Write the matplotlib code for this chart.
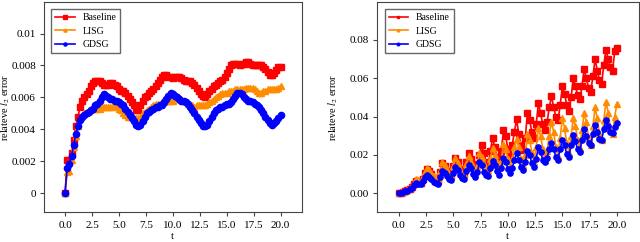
import numpy as np
import matplotlib
matplotlib.use("Agg")
import matplotlib.pyplot as plt

plt.rcParams['font.family'] = ['Liberation Serif', 'DejaVu Serif']
plt.rcParams['mathtext.fontset'] = 'stix'
plt.rcParams['font.size'] = 8

# time grid, step 0.2
t = np.linspace(0, 20, 101)

# left panel
base_left = [0.0, 0.0021, 0.0021, 0.0025, 0.0033, 0.0042, 0.0048, 0.0054, 0.0058, 0.0060,
             0.0062, 0.0064, 0.0067, 0.0069, 0.0070, 0.0070, 0.0070, 0.0069, 0.0068, 0.0068,
             0.0068, 0.0069, 0.0069, 0.0068, 0.0067, 0.0065, 0.0064, 0.0064, 0.0063, 0.0061,
             0.0059, 0.0057, 0.0055, 0.0052, 0.0052, 0.0055, 0.0058, 0.0060, 0.0061, 0.0063,
             0.0064, 0.0065, 0.0067, 0.0069, 0.0071, 0.0073, 0.0074, 0.0074, 0.0073, 0.0073,
             0.0072, 0.0073, 0.0073, 0.0073, 0.0072, 0.0071, 0.0070, 0.0070, 0.0070, 0.0069,
             0.0068, 0.0066, 0.0064, 0.0062, 0.0061, 0.0060, 0.0062, 0.0064, 0.0065, 0.0067,
             0.0068, 0.0069, 0.0070, 0.0071, 0.0073, 0.0075, 0.0078, 0.0080, 0.0081, 0.0081,
             0.0081, 0.0080, 0.0081, 0.0081, 0.0082, 0.0082, 0.0081, 0.0080, 0.0080, 0.0080,
             0.0080, 0.0080, 0.0079, 0.0078, 0.0076, 0.0074, 0.0074, 0.0075, 0.0077, 0.0079,
             0.0079]
lisg_left = [0.0, 0.0013, 0.0014, 0.0021, 0.0029, 0.0036, 0.0042, 0.0047, 0.0049, 0.0050,
             0.0051, 0.0052, 0.0053, 0.0053, 0.0053, 0.0053, 0.0053, 0.0054, 0.0054, 0.0054,
             0.0054, 0.0054, 0.0054, 0.0055, 0.0054, 0.0053, 0.0052, 0.0050, 0.0049, 0.0048,
             0.0048, 0.0048, 0.0047, 0.0047, 0.0047, 0.0048, 0.0050, 0.0051, 0.0052, 0.0053,
             0.0054, 0.0055, 0.0056, 0.0056, 0.0056, 0.0057, 0.0057, 0.0058, 0.0058, 0.0058,
             0.0058, 0.0059, 0.0059, 0.0059, 0.0059, 0.0058, 0.0057, 0.0056, 0.0055, 0.0055,
             0.0054, 0.0055, 0.0055, 0.0055, 0.0055, 0.0055, 0.0056, 0.0057, 0.0058, 0.0059,
             0.0060, 0.0061, 0.0062, 0.0063, 0.0063, 0.0063, 0.0064, 0.0064, 0.0064, 0.0065,
             0.0065, 0.0065, 0.0065, 0.0065, 0.0066, 0.0066, 0.0066, 0.0066, 0.0065, 0.0064,
             0.0063, 0.0063, 0.0064, 0.0064, 0.0065, 0.0065, 0.0065, 0.0065, 0.0065, 0.0066,
             0.0067]
gdsg_left = [0.0, 0.0016, 0.0018, 0.0023, 0.0030, 0.0037, 0.0042, 0.0046, 0.0048, 0.0049,
             0.0050, 0.0051, 0.0052, 0.0053, 0.0055, 0.0056, 0.0058, 0.0060, 0.0062, 0.0061,
             0.0060, 0.0059, 0.0059, 0.0058, 0.0058, 0.0057, 0.0056, 0.0055, 0.0053, 0.0051,
             0.0049, 0.0047, 0.0045, 0.0043, 0.0042, 0.0043, 0.0045, 0.0048, 0.0050, 0.0051,
             0.0052, 0.0053, 0.0054, 0.0054, 0.0055, 0.0055, 0.0057, 0.0059, 0.0061, 0.0063,
             0.0062, 0.0061, 0.0060, 0.0059, 0.0058, 0.0058, 0.0057, 0.0056, 0.0054, 0.0052,
             0.0050, 0.0048, 0.0046, 0.0044, 0.0042, 0.0042, 0.0043, 0.0045, 0.0048, 0.0050,
             0.0052, 0.0053, 0.0054, 0.0054, 0.0055, 0.0056, 0.0056, 0.0057, 0.0059, 0.0061,
             0.0063, 0.0063, 0.0062, 0.0060, 0.0059, 0.0058, 0.0058, 0.0057, 0.0056, 0.0055,
             0.0054, 0.0052, 0.0050, 0.0048, 0.0046, 0.0044, 0.0043, 0.0044, 0.0045, 0.0047,
             0.0049]

# right panel
base_right = [0.0, 0.0003, 0.0006, 0.0010, 0.0014, 0.0020, 0.0030, 0.0045, 0.0062, 0.0060,
              0.0052, 0.0075, 0.0105, 0.0125, 0.0115, 0.0098, 0.0080, 0.0066, 0.0062, 0.0110,
              0.0155, 0.0140, 0.0115, 0.0095, 0.0090, 0.0140, 0.0185, 0.0160, 0.0125, 0.0105,
              0.0100, 0.0160, 0.0210, 0.0180, 0.0145, 0.0120, 0.0150, 0.0200, 0.0250, 0.0210,
              0.0165, 0.0150, 0.0220, 0.0290, 0.0240, 0.0190, 0.0165, 0.0220, 0.0330, 0.0300,
              0.0230, 0.0195, 0.0250, 0.0320, 0.0385, 0.0310, 0.0250, 0.0225, 0.0290, 0.0420,
              0.0380, 0.0320, 0.0290, 0.0360, 0.0470, 0.0420, 0.0360, 0.0330, 0.0370, 0.0450,
              0.0505, 0.0450, 0.0400, 0.0380, 0.0460, 0.0560, 0.0520, 0.0460, 0.0430, 0.0500,
              0.0600, 0.0560, 0.0510, 0.0490, 0.0560, 0.0650, 0.0600, 0.0550, 0.0530, 0.0610,
              0.0700, 0.0640, 0.0590, 0.0570, 0.0670, 0.0750, 0.0700, 0.0660, 0.0640, 0.0740,
              0.0760]
lisg_right = [0.0, 0.0004, 0.0008, 0.0012, 0.0018, 0.0026, 0.0038, 0.0055, 0.0072, 0.0068,
              0.0060, 0.0085, 0.0112, 0.0132, 0.0122, 0.0105, 0.0090, 0.0078, 0.0074, 0.0118,
              0.0162, 0.0145, 0.0120, 0.0100, 0.0092, 0.0140, 0.0182, 0.0158, 0.0125, 0.0105,
              0.0100, 0.0150, 0.0192, 0.0165, 0.0130, 0.0110, 0.0140, 0.0212, 0.0190, 0.0150,
              0.0125, 0.0120, 0.0180, 0.0235, 0.0200, 0.0160, 0.0130, 0.0170, 0.0255, 0.0230,
              0.0180, 0.0140, 0.0180, 0.0240, 0.0285, 0.0240, 0.0180, 0.0145, 0.0200, 0.0310,
              0.0280, 0.0210, 0.0160, 0.0240, 0.0338, 0.0300, 0.0230, 0.0175, 0.0220, 0.0300,
              0.0373, 0.0320, 0.0240, 0.0195, 0.0290, 0.0390, 0.0340, 0.0260, 0.0212, 0.0300,
              0.0392, 0.0350, 0.0275, 0.0234, 0.0330, 0.0420, 0.0370, 0.0290, 0.0250, 0.0350,
              0.0448, 0.0390, 0.0310, 0.0275, 0.0380, 0.0477, 0.0420, 0.0340, 0.0310, 0.0400,
              0.0467]
gdsg_right = [0.0, 0.0003, 0.0006, 0.0009, 0.0013, 0.0019, 0.0028, 0.0042, 0.0055, 0.0050,
              0.0045, 0.0062, 0.0082, 0.0092, 0.0085, 0.0072, 0.0060, 0.0052, 0.0050, 0.0085,
              0.0118, 0.0105, 0.0088, 0.0074, 0.0070, 0.0105, 0.0138, 0.0120, 0.0095, 0.0080,
              0.0076, 0.0115, 0.0148, 0.0130, 0.0100, 0.0082, 0.0110, 0.0160, 0.0145, 0.0110,
              0.0092, 0.0090, 0.0130, 0.0168, 0.0145, 0.0115, 0.0096, 0.0130, 0.0185, 0.0165,
              0.0125, 0.0103, 0.0130, 0.0175, 0.0207, 0.0175, 0.0135, 0.0120, 0.0160, 0.0222,
              0.0200, 0.0155, 0.0138, 0.0180, 0.0240, 0.0215, 0.0175, 0.0160, 0.0185, 0.0230,
              0.0262, 0.0230, 0.0190, 0.0175, 0.0230, 0.0280, 0.0250, 0.0205, 0.0190, 0.0250,
              0.0303, 0.0270, 0.0230, 0.0216, 0.0280, 0.0333, 0.0300, 0.0260, 0.0250, 0.0310,
              0.0356, 0.0320, 0.0285, 0.0277, 0.0335, 0.0382, 0.0350, 0.0320, 0.0312, 0.0345,
              0.0368]

labels = ['Baseline', 'LISG', 'GDSG']
colors = ['#ff0000', '#ff8c00', '#0000ff']
markers = ['s', '^', 'o']

fig = plt.figure(figsize=(6.4, 2.42), dpi=100)
ax1 = fig.add_axes([0.068, 0.123, 0.404, 0.870])
ax2 = fig.add_axes([0.589, 0.123, 0.409, 0.870])

for ax, series, ms in [(ax1, [base_left, lisg_left, gdsg_left], 4.5),
                       (ax2, [base_right, lisg_right, gdsg_right], 3.8)]:
    for y, lab, c, m in zip(series, labels, colors, markers):
        ax.plot(t, y, color=c, marker=m, markersize=ms, linewidth=1.2, label=lab)
    ax.set_xlim(-2, 22)
    ax.set_xticks([0, 2.5, 5, 7.5, 10, 12.5, 15, 17.5, 20])
    ax.set_xticklabels(['0.0', '2.5', '5.0', '7.5', '10.0', '12.5', '15.0', '17.5', '20.0'])
    ax.set_xlabel('t', labelpad=1)
    ax.set_ylabel('relateve $l_2$ error', fontsize=7.5)
    for s in ax.spines.values():
        s.set_color('#444444')
    ax.tick_params(direction='out', length=3, color='#444444')
    ax.tick_params(axis='y', pad=2.5)
    leg = ax.legend(loc='upper left', fancybox=False, edgecolor='#666666',
                    framealpha=1, fontsize=7, handlelength=2.0, markerscale=0.5,
                    borderaxespad=0.8, labelspacing=0.45)
    leg.get_frame().set_linewidth(1)

ax1.set_ylim(-0.0012, 0.012)
ax1.set_yticks([0, 0.002, 0.004, 0.006, 0.008, 0.01])
ax1.set_yticklabels(['0', '0.002', '0.004', '0.006', '0.008', '0.01'])
ax1.yaxis.set_label_coords(-0.12, 0.5)
ax2.set_ylim(-0.01, 0.1)
ax2.set_yticks([0, 0.02, 0.04, 0.06, 0.08])
ax2.set_yticklabels(['0.00', '0.02', '0.04', '0.06', '0.08'])
ax2.yaxis.set_label_coords(-0.14, 0.5)

fig.savefig('out.png', dpi=100)
